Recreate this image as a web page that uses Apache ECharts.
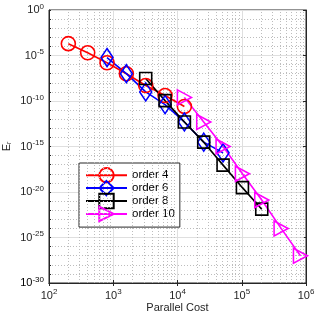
<!DOCTYPE html>
<html><head><meta charset="utf-8">
<script src="https://cdn.jsdelivr.net/npm/echarts@6/dist/echarts.min.js"></script>
<style>html,body{margin:0;padding:0;background:#fff}#c{width:316px;height:316px}</style>
</head><body><div id="c"></div>
<script>
// ---- data ----
const seriesNames = ['order 4', 'order 6', 'order 8', 'order 10'];
const cost4 = [200, 400, 800, 1600, 3200, 6400, 12800];
const err4  = [2e-4, 2e-5, 1.6e-6, 1e-7, 5e-9, 4e-10, 2.5e-11];
const cost6 = [800, 1600, 3200, 6400, 12800, 25600, 51200];
const err6  = [6e-6, 1e-7, 1e-9, 4e-11, 5e-13, 3e-15, 2e-16];
const cost8 = [3200, 6400, 12800, 25600, 51200, 102400, 204800];
const err8  = [3e-8, 1.1e-10, 5e-13, 3e-15, 9e-18, 3e-20, 1.3e-22];
const cost10 = [12800, 25600, 51200, 102400, 204800, 409600, 819200];
const err10  = [2.5e-10, 5e-13, 1e-15, 1e-18, 1.3e-21, 1e-24, 1e-27];
const xTickExps = [2, 3, 4, 5, 6];
const yTickExps = [0, -5, -10, -15, -20, -25, -30];

// ---- styling ----
const TXT = '#262626';
const FONT = 'Liberation Sans';
const Y_MIN = 1e-30;
const rich = {
  b: {fontSize: 11, color: TXT, fontFamily: FONT},
  s: {fontSize: 8, color: TXT, fontFamily: FONT, verticalAlign: 'bottom', padding: [0, 0, 7, 0]}
};
const yMinExp = yTickExps[yTickExps.length - 1];
function pow10Label(v, allowed) {
  const e = Math.round(Math.log10(v));
  if (!allowed.includes(e)) return '';
  return '{b|10}{s|' + e + '}';
}
// the bottom y label is added separately below (the axis drops it at the corner)
function yLabel(v) {
  const e = Math.round(Math.log10(v));
  if (e === yMinExp) return '';
  return pow10Label(v, yTickExps);
}
const minorX = [];
for (let e = xTickExps[0]; e < xTickExps[xTickExps.length - 1]; e++) {
  for (let k = 2; k <= 9; k++) minorX.push(k * Math.pow(10, e));
}
const triPath = 'path://M0,0 L10,5 L0,10 Z';
function mk(name, xs, ys, color, symbol, size) {
  return {
    name: name, type: 'line', z: 5,
    data: xs.map((x, i) => [x, ys[i]]),
    symbol: symbol, symbolSize: size, showSymbol: true,
    lineStyle: {color: color, width: 1.6},
    itemStyle: {color: 'rgba(0,0,0,0)', borderColor: color, borderWidth: 1.6},
    emphasis: {disabled: true}
  };
}
const chart = echarts.init(document.getElementById('c'), null, {renderer: 'canvas'});
chart.setOption({
  animation: false,
  backgroundColor: '#fff',
  grid: {left: 49, right: 10, top: 10, bottom: 33, containLabel: false, outerBoundsMode: 'none',
         show: true, borderColor: TXT, borderWidth: 1, backgroundColor: 'transparent'},
  legend: {
    orient: 'vertical', left: 79, top: 163,
    data: seriesNames,
    backgroundColor: '#fff', borderColor: TXT, borderWidth: 1,
    padding: [4, 5, 5, 6], itemWidth: 41, itemHeight: 18, itemGap: -3.5,
    textStyle: {fontSize: 11.5, color: '#000', fontFamily: FONT}
  },
  xAxis: [{
    type: 'log', logBase: 10, min: 100, max: 1e6, interval: 1,
    name: 'Parallel Cost', nameLocation: 'middle', nameGap: 19, nameMoveOverlap: false,
    nameTextStyle: {fontSize: 11, color: TXT, fontFamily: FONT},
    axisLine: {show: true, lineStyle: {color: TXT}},
    axisTick: {show: true, inside: true, length: 3, lineStyle: {color: TXT}},
    axisLabel: {margin: 5, hideOverlap: false, showMinLabel: true, showMaxLabel: true,
                formatter: v => pow10Label(v, xTickExps), rich: rich},
    splitLine: {show: true, lineStyle: {color: '#dfdfdf', width: 1}}
  }, {
    type: 'log', logBase: 10, min: 100, max: 1e6, interval: 1, position: 'top',
    axisLine: {show: true, lineStyle: {color: TXT}},
    axisTick: {show: true, inside: true, length: 3, lineStyle: {color: TXT}},
    axisLabel: {show: false}, splitLine: {show: false}
  }],
  yAxis: [{
    type: 'log', logBase: 10, min: Y_MIN, max: 1, interval: 1,
    name: '{e|E}{r|r}', nameLocation: 'middle', nameGap: 36, nameRotate: 90, nameMoveOverlap: false,
    nameTextStyle: {color: TXT, fontSize: 11, fontFamily: FONT, rich: {
      e: {fontSize: 11, color: TXT, fontFamily: FONT},
      r: {fontSize: 7, color: TXT, fontFamily: FONT, verticalAlign: 'top', padding: [6, 0, 0, 0]}
    }},
    axisLine: {show: true, lineStyle: {color: TXT}},
    axisTick: {show: true, inside: true, length: 2, lineStyle: {color: TXT}},
    axisLabel: {margin: 5, hideOverlap: false, showMinLabel: true, showMaxLabel: true,
                formatter: yLabel, rich: rich},
    splitLine: {show: true, lineStyle: {color: '#bdbdbd', width: 1, type: [1, 2]}}
  }, {
    type: 'log', logBase: 10, min: Y_MIN, max: 1, interval: 5, position: 'right',
    axisLine: {show: true, lineStyle: {color: TXT}},
    axisTick: {show: true, inside: true, length: 3, lineStyle: {color: TXT}},
    axisLabel: {show: false},
    splitLine: {show: true, lineStyle: {color: '#dfdfdf', width: 1}}
  }],
  series: [
    {
      type: 'line', data: [], silent: true, z: 1,
      markLine: {
        silent: true, symbol: 'none', label: {show: false}, animation: false,
        lineStyle: {type: [1, 2], color: '#bdbdbd', width: 1},
        data: minorX.map(v => ({xAxis: v}))
      }
    },
    mk(seriesNames[0], cost4, err4, '#ff0000', 'circle', 14),
    mk(seriesNames[1], cost6, err6, '#0000ff', 'diamond', [12, 18]),
    mk(seriesNames[2], cost8, err8, '#000000', 'rect', 12),
    mk(seriesNames[3], cost10, err10, '#ff00ff', triPath, [14, 15])
  ]
});
// bottom y tick label, placed through the library's own scales
const yPx = chart.convertToPixel({yAxisIndex: 0}, Math.pow(10, yMinExp));
const xPx = chart.convertToPixel({xAxisIndex: 0}, Math.pow(10, xTickExps[0]));
chart.setOption({
  graphic: [{
    type: 'text', x: xPx - 5, y: yPx, z: 10,
    style: {text: '{b|10}{s|' + yMinExp + '}', rich: rich, align: 'right', verticalAlign: 'middle'}
  }]
});
</script></body></html>
